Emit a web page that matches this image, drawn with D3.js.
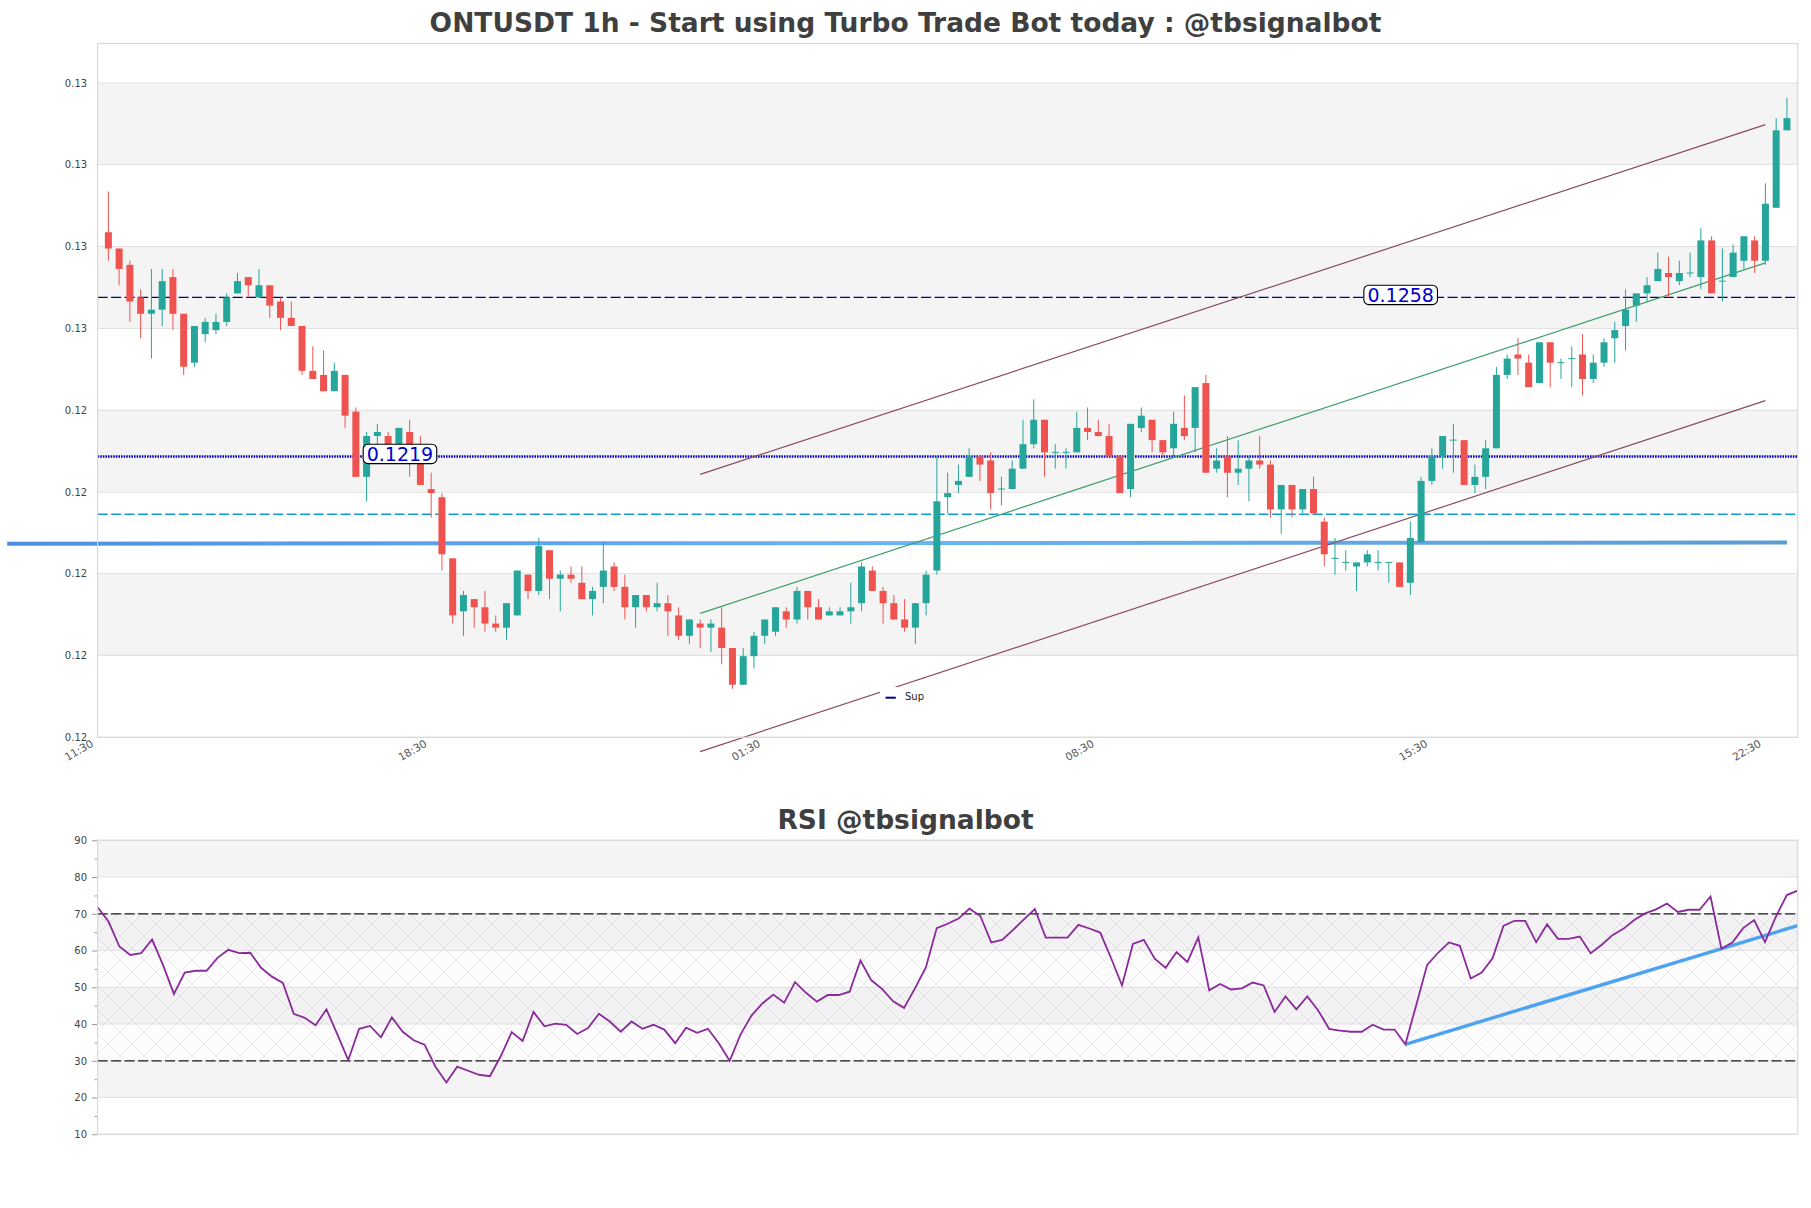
<!DOCTYPE html>
<html>
<head>
<meta charset="utf-8">
<script src="https://cdn.jsdelivr.net/npm/d3@7"></script>
<style>
  body { margin: 0; background: #fff; }
  text { font-family: "DejaVu Sans", sans-serif; }
</style>
</head>
<body>
<svg id="chart" width="1811" height="1208"></svg>
<script>
// candle values, one array per field
const opens = [.1274,.1270,.1266,.1258,.1254,.1255,.1263,.1254,.1242,.1249,.1250,.1252,.1259,.1263,.1258,.1261,.1257,.1253,.1251,.1240,.1239,.1235,.1239,.1230,.1214,.1224,.1224,.1222,.1225,.1220,.1211,.1209,.1194,.1181,.1184,.1182,.1178,.1177,.1180,.1190,.1186,.1196,.1189,.1190,.1188,.1184,.1187,.1192,.1187,.1182,.1185,.1182,.1183,.1180,.1175,.1178,.1177,.1177,.1172,.1163,.1170,.1175,.1176,.1181,.1179,.1186,.1182,.1180,.1180,.1181,.1183,.1191,.1186,.1183,.1179,.1177,.1183,.1191,.1209,.1212,.1214,.1219,.1218,.1211,.1211,.1216,.1222,.1228,.1220,.1220,.1220,.1226,.1225,.1224,.1219,.1211,.1226,.1228,.1223,.1221,.1226,.1226,.1237,.1216,.1219,.1215,.1216,.1218,.1217,.1206,.1212,.1206,.1211,.1203,.1194,.1193,.1192,.1193,.1193,.1193,.1193,.1188,.1198,.1213,.1219,.1223,.1223,.1212,.1214,.1221,.1239,.1244,.1242,.1237,.1247,.1242,.1243,.1244,.1238,.1242,.1248,.1251,.1256,.1259,.1262,.1264,.1262,.1264,.1263,.1272,.1262,.1263,.1267,.1272,.1267,.1280,.1299];
const highs = [.1284,.1270,.1267,.1260,.1265,.1265,.1265,.1254,.1251,.1253,.1254,.1259,.1264,.1263,.1265,.1261,.1258,.1257,.1251,.1246,.1245,.1242,.1239,.1231,.1225,.1227,.1225,.1226,.1228,.1224,.1215,.1210,.1194,.1186,.1184,.1186,.1180,.1183,.1191,.1190,.1199,.1196,.1191,.1192,.1192,.1187,.1198,.1193,.1190,.1185,.1185,.1188,.1185,.1182,.1179,.1179,.1179,.1182,.1172,.1172,.1176,.1179,.1182,.1182,.1187,.1186,.1184,.1182,.1182,.1188,.1193,.1192,.1187,.1185,.1184,.1183,.1191,.1219,.1215,.1217,.1221,.1219,.1220,.1214,.1218,.1228,.1233,.1228,.1222,.1221,.1230,.1231,.1228,.1227,.1219,.1227,.1231,.1228,.1223,.1230,.1234,.1236,.1239,.1221,.1224,.1223,.1219,.1224,.1218,.1212,.1212,.1211,.1214,.1204,.1199,.1196,.1193,.1196,.1196,.1193,.1193,.1203,.1214,.1221,.1224,.1227,.1223,.1217,.1223,.1241,.1244,.1248,.1244,.1247,.1247,.1243,.1246,.1249,.1244,.1248,.1252,.1260,.1259,.1263,.1269,.1268,.1267,.1269,.1275,.1273,.1270,.1271,.1273,.1273,.1286,.1302,.1307];
const lows = [.1267,.1261,.1252,.1248,.1243,.1251,.1250,.1239,.1241,.1247,.1249,.1251,.1259,.1258,.1258,.1253,.1250,.1251,.1239,.1238,.1235,.1235,.1226,.1214,.1208,.1222,.1222,.1222,.1214,.1212,.1204,.1191,.1178,.1175,.1177,.1176,.1176,.1174,.1180,.1184,.1185,.1184,.1181,.1188,.1184,.1180,.1183,.1186,.1179,.1177,.1181,.1181,.1175,.1174,.1173,.1172,.1171,.1168,.1162,.1163,.1167,.1173,.1175,.1177,.1178,.1179,.1179,.1180,.1180,.1178,.1181,.1186,.1178,.1179,.1176,.1173,.1180,.1190,.1205,.1210,.1214,.1213,.1206,.1207,.1211,.1216,.1221,.1214,.1216,.1216,.1220,.1223,.1224,.1219,.1210,.1209,.1225,.1220,.1219,.1219,.1223,.1220,.1215,.1215,.1209,.1212,.1208,.1216,.1204,.1200,.1204,.1205,.1205,.1192,.1190,.1191,.1186,.1192,.1191,.1188,.1187,.1185,.1198,.1212,.1216,.1215,.1212,.1210,.1211,.1221,.1238,.1239,.1236,.1237,.1236,.1238,.1236,.1234,.1237,.1241,.1242,.1245,.1252,.1257,.1262,.1258,.1261,.1263,.1260,.1259,.1257,.1263,.1265,.1264,.1266,.1280,.1299];
const closes = [.1270,.1265,.1257,.1254,.1255,.1262,.1254,.1241,.1251,.1252,.1252,.1258,.1262,.1261,.1261,.1256,.1253,.1251,.1240,.1238,.1235,.1240,.1229,.1214,.1224,.1225,.1222,.1226,.1220,.1212,.1210,.1195,.1180,.1185,.1182,.1178,.1177,.1183,.1191,.1186,.1197,.1189,.1190,.1189,.1184,.1186,.1191,.1187,.1182,.1185,.1182,.1183,.1181,.1175,.1179,.1177,.1178,.1172,.1163,.1170,.1175,.1179,.1182,.1179,.1186,.1182,.1179,.1181,.1181,.1182,.1192,.1186,.1183,.1179,.1177,.1183,.1190,.1208,.1210,.1213,.1219,.1217,.1210,.1211,.1216,.1222,.1228,.1220,.1220,.1220,.1226,.1225,.1224,.1219,.1210,.1227,.1229,.1223,.1220,.1227,.1224,.1236,.1215,.1218,.1215,.1216,.1218,.1217,.1206,.1212,.1206,.1211,.1205,.1195,.1194,.1193,.1193,.1195,.1193,.1193,.1187,.1199,.1213,.1219,.1224,.1223,.1212,.1214,.1221,.1239,.1243,.1243,.1236,.1247,.1242,.1242,.1243,.1238,.1242,.1247,.1250,.1255,.1259,.1261,.1265,.1263,.1264,.1264,.1272,.1259,.1262,.1269,.1273,.1267,.1281,.1299,.1302];

// rsi values
const rsiValues = [71.8,67.9,61.1,58.8,59.3,63,56.1,48.2,54,54.5,54.5,58,60.2,59.3,59.4,55.3,52.9,51.2,42.8,41.7,39.7,44,37.2,30.2,38.7,39.5,36.4,41.8,37.9,35.6,34.4,28.4,24.1,28.4,27.3,26.2,25.8,31.3,37.8,35.4,43.3,39.4,40.1,39.8,37.3,38.9,42.8,40.7,37.9,40.7,38.7,39.8,38.5,34.8,39,37.6,38.7,34.8,30,37.2,42.3,45.6,48,45.8,51.4,48.5,46.1,47.9,47.9,48.8,57.3,51.9,49.5,46.2,44.4,49.7,55.4,66.1,67.3,68.7,71.4,69.4,62.2,62.9,65.6,68.5,71.3,63.5,63.5,63.5,67,66,64.9,57.9,50.5,61.8,62.9,57.8,55.3,59.6,56.9,63.6,49.2,50.9,49.4,49.7,51.3,50.5,43.3,47.5,44,47.5,43.7,38.7,38.2,37.9,37.9,39.8,38.5,38.5,34.5,45.2,56.1,59.4,62.2,61.3,52.4,54,57.9,66.7,68.1,68.1,62.3,67.1,63.2,63.2,63.8,59.3,61.5,64.2,65.9,68.3,70.1,71.2,72.8,70.5,71.1,71.1,74.7,60.5,62.2,66.1,68.3,62.3,69.2,75.1,76.3];

// axis ticks and labels
const priceTicks = [.13106,.12906,.12705,.12504,.12303,.12102,.11903,.11702,.11501];
const priceLabels = ["0.13","0.13","0.13","0.13","0.12","0.12","0.12","0.12","0.12"];
const timeTicks = [-1,30,61,92,123,154];
const timeLabels = ["11:30","18:30","01:30","08:30","15:30","22:30"];
const rsiTicks = [90,80,70,60,50,40,30,20,10];
const rsiMinorTicks = [85,75,65,55,45,35,25,15];

// levels and trend lines
const supportDashed = 0.1258;
const supportDotted = 0.1219;
const tealLevel = 0.12048;
const thickLevel = [[-9.4,.11976],[156,.11979]];
const channelTop = [[55,.12146],[154,.13004]];
const channelMid = [[55,.11805],[154,.12665]];
const channelLow = [[55,.11466],[154,.12327]];
const rsiTrend = [[120,34.5],[156,66.8]];
const levelLabels = [["0.1219",27.1,supportDotted],["0.1258",120.1,supportDashed]];

const left = 97.6, right = 1797.7;
const svg = d3.select("#chart");

const x = d3.scaleLinear().domain([-1,157]).range([left,right]);
const y = d3.scaleLinear().domain([.11501,.13203]).range([737.3,43.5]);
const xRsi = d3.scaleLinear().domain([0,156]).range([left,right]);
const yRsi = d3.scaleLinear().domain([10,90]).range([1134.3,840.3]);

// hatch used on the rsi panel
const defs = svg.append("defs");
const hatch = defs.append("pattern").attr("id","hatch").attr("patternUnits","userSpaceOnUse")
    .attr("width",24).attr("height",24);
[[0,0,24,24],[0,24,24,0]].forEach(l => {
    hatch.append("line").attr("x1",l[0]).attr("y1",l[1]).attr("x2",l[2]).attr("y2",l[3])
        .attr("stroke","rgba(110,110,130,0.13)").attr("stroke-width",0.8);
});
for (let k = -24; k <= 24; k += 6) {
    hatch.append("line").attr("x1",k).attr("y1",0).attr("x2",k+24).attr("y2",24)
        .attr("stroke","rgba(160,120,190,0.07)").attr("stroke-width",0.8);
    hatch.append("line").attr("x1",k).attr("y1",24).attr("x2",k+24).attr("y2",0)
        .attr("stroke","rgba(160,120,190,0.07)").attr("stroke-width",0.8);
}
const thick = defs.append("linearGradient").attr("id","thickLine").attr("gradientUnits","userSpaceOnUse")
    .attr("x1",x(-9.4)).attr("x2",x(156)).attr("y1",0).attr("y2",0);
thick.append("stop").attr("offset","0").attr("stop-color","#4a90e2");
thick.append("stop").attr("offset","0.5").attr("stop-color","#6ab4f5");
thick.append("stop").attr("offset","1").attr("stop-color","#5b9bd5");

// titles
function title(txt, py) {
    svg.append("text").attr("x",905.5).attr("y",py).attr("text-anchor","middle")
        .attr("font-size",26.5).attr("font-weight","bold").attr("fill","#3f3f3f").text(txt);
}
title("ONTUSDT 1h - Start using Turbo Trade Bot today : @tbsignalbot", 31.5);
title("RSI @tbsignalbot", 829);

// main panel bands
priceTicks.slice(0,-1).forEach((t,i) => {
    if (i % 2 == 0) {
        svg.append("rect").attr("x",left).attr("width",right-left)
            .attr("y",y(t)).attr("height",y(priceTicks[i+1])-y(t)).attr("fill","#f4f4f4");
    }
});
svg.selectAll(".grid").data(priceTicks).join("line").attr("class","grid")
    .attr("x1",left).attr("x2",right).attr("y1",d => y(d)).attr("y2",d => y(d))
    .attr("stroke","#e2e2e2").attr("stroke-width",1.1);

// horizontal levels
function level(p, color, width, dash) {
    svg.append("line").attr("x1",left).attr("x2",right).attr("y1",y(p)).attr("y2",y(p))
        .attr("stroke",color).attr("stroke-width",width).attr("stroke-dasharray",dash);
}
level(supportDashed,"#00008b",1.3,"10 3.5");
level(supportDotted,"#0000cd",2.6,"1.6 1");
level(tealLevel,"#129ad0",1.4,"10 3.5");

// trend lines
const priceLine = d3.line().x(d => x(d[0])).y(d => y(d[1]));
svg.append("path").attr("d",priceLine(thickLevel)).attr("fill","none")
    .attr("stroke","url(#thickLine)").attr("stroke-width",4);
[[channelTop,"#8c4a63"],[channelLow,"#8c4a63"],[channelMid,"#3c9f68"]].forEach(c => {
    svg.append("path").attr("d",priceLine(c[0])).attr("fill","none")
        .attr("stroke",c[1]).attr("stroke-width",1.2);
});

// candles
const upColor = "#26a69a", downColor = "#ef5350";
const candleColor = i => closes[i] >= opens[i] ? upColor : downColor;
const candles = svg.append("g");
opens.forEach((o,i) => {
    const c = closes[i];
    candles.append("line").attr("x1",x(i)).attr("x2",x(i))
        .attr("y1",y(highs[i])).attr("y2",y(lows[i]))
        .attr("stroke",candleColor(i)).attr("stroke-width",1);
    if (o == c) {
        candles.append("line").attr("x1",x(i)-3.5).attr("x2",x(i)+3.5)
            .attr("y1",y(c)).attr("y2",y(c)).attr("stroke",candleColor(i)).attr("stroke-width",1);
    } else {
        candles.append("rect").attr("x",x(i)-3.5).attr("width",7)
            .attr("y",y(Math.max(o,c))).attr("height",Math.abs(y(o)-y(c)))
            .attr("fill",candleColor(i));
    }
});

// boxed level labels
levelLabels.forEach(l => {
    const g = svg.append("g").attr("transform","translate("+x(l[1])+","+(y(l[2])-2.5)+")");
    g.append("rect").attr("x",-36.8).attr("y",-9.7).attr("width",73.6).attr("height",19.4).attr("rx",5)
        .attr("fill","#fff").attr("stroke","#000").attr("stroke-width",1.1);
    g.append("text").attr("text-anchor","middle").attr("y",6.8).attr("font-size",19)
        .attr("fill","#0000cd").text(l[0]);
});

// legend
svg.append("rect").attr("x",880).attr("y",687).attr("width",50).attr("height",20).attr("fill","#fff");
svg.append("line").attr("x1",885.5).attr("x2",895.8).attr("y1",697.7).attr("y2",697.7)
    .attr("stroke","#00008b").attr("stroke-width",2);
svg.append("text").attr("x",905).attr("y",699.5).attr("font-size",10).attr("fill","#222").text("Sup");

// main axes
const yAxis = d3.axisLeft(y).tickValues(priceTicks).tickSize(0).tickPadding(10.5)
    .tickFormat((d,i) => priceLabels[i]);
const gy = svg.append("g").attr("transform","translate("+left+",0)").call(yAxis);
gy.select(".domain").remove();
gy.selectAll("text").attr("font-size",10).attr("fill","#444").attr("font-family","DejaVu Sans");

const xAxis = d3.axisBottom(x).tickValues(timeTicks).tickSize(0).tickFormat((d,i) => timeLabels[i]);
const gx = svg.append("g").attr("transform","translate(0,737.3)").call(xAxis);
gx.select(".domain").remove();
gx.selectAll("text").attr("font-size",10.7).attr("fill","#555").attr("font-family","DejaVu Sans")
    .attr("text-anchor","end").attr("dy",0).attr("y",0)
    .attr("transform","translate(-4,8.5) rotate(-30)");

svg.append("rect").attr("x",left).attr("y",43.5).attr("width",right-left).attr("height",737.3-43.5)
    .attr("fill","none").attr("stroke","#d9d9d9").attr("stroke-width",1.2);

// rsi bands
rsiTicks.slice(0,-1).forEach((t,i) => {
    if (i % 2 == 0) {
        svg.append("rect").attr("x",left).attr("width",right-left)
            .attr("y",yRsi(t)).attr("height",yRsi(rsiTicks[i+1])-yRsi(t)).attr("fill","#f4f4f4");
    }
});
svg.selectAll(".rgrid").data(rsiTicks).join("line").attr("class","rgrid")
    .attr("x1",left).attr("x2",right).attr("y1",d => yRsi(d)).attr("y2",d => yRsi(d))
    .attr("stroke","#e2e2e2").attr("stroke-width",1.1);
svg.append("rect").attr("x",left).attr("width",right-left).attr("y",yRsi(70)).attr("height",yRsi(30)-yRsi(70))
    .attr("fill","url(#hatch)");
[70,30].forEach(v => {
    svg.append("line").attr("x1",left).attr("x2",right).attr("y1",yRsi(v)).attr("y2",yRsi(v))
        .attr("stroke","#1a1a1a").attr("stroke-width",1.3).attr("stroke-dasharray","10 3.5");
});

// rsi lines
const rsiLine = d3.line().x((d,i) => xRsi(i)).y(d => yRsi(d));
svg.append("path").attr("d",d3.line().x(d => xRsi(d[0])).y(d => yRsi(d[1]))(rsiTrend)).attr("fill","none")
    .attr("stroke","#4da3f0").attr("stroke-width",3.4);
svg.append("path").attr("d",rsiLine(rsiValues)).attr("fill","none")
    .attr("stroke","#8b2a9b").attr("stroke-width",1.8);

// rsi axis
const rAxis = d3.axisLeft(yRsi).tickValues(rsiTicks).tickSize(5.5).tickPadding(5).tickFormat(d3.format("d"));
const gr = svg.append("g").attr("transform","translate("+left+",0)").call(rAxis);
gr.select(".domain").remove();
gr.selectAll("line").attr("stroke","#999");
gr.selectAll("text").attr("font-size",10).attr("fill","#444").attr("font-family","DejaVu Sans");
const rMinor = d3.axisLeft(yRsi).tickValues(rsiMinorTicks).tickSize(3).tickFormat("");
const grm = svg.append("g").attr("transform","translate("+left+",0)").call(rMinor);
grm.select(".domain").remove();
grm.selectAll("line").attr("stroke","#999");

svg.append("rect").attr("x",left).attr("y",840.3).attr("width",right-left).attr("height",1134.3-840.3)
    .attr("fill","none").attr("stroke","#d9d9d9").attr("stroke-width",1.2);
</script>
</body>
</html>
